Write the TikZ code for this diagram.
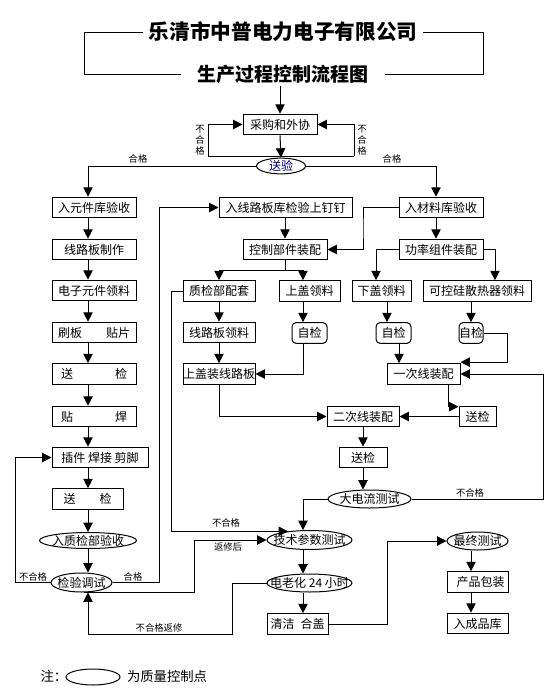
\documentclass[tikz,border=0pt]{standalone}
\usepackage{fontspec}
\setmainfont{Noto Sans CJK SC}
\usetikzlibrary{arrows.meta, shapes.geometric, calc}

\newcommand{\inoval}[1]{\makebox[0pt]{#1}}

\begin{document}
\begin{tikzpicture}
		[x=.75pt,y=-.75pt,line width=.75pt,
		%Styles
		box/.style={draw,rectangle,inner sep=0pt,minimum height=15.5pt,font=\fontsize{9}{10}\selectfont},
		selfcheck/.style={box,rounded corners=3pt},
		qpoint/.style={draw,ellipse,inner sep=0pt,minimum height=13.5pt,font=\fontsize{9}{10}\selectfont},
		arr/.style={-{Triangle[length=7pt,width=7pt]}},
		tag/.style={inner sep=0pt,font=\fontsize{7}{8}\selectfont},
		vtag/.style={tag,align=center,font=\fontsize{7}{8.2}\selectfont}
		]
		
		%Colors
		\colorlet{checkcolor}{blue!50!black}	%text of the first check
		
		\useasboundingbox (0,0) rectangle (560,700);
		
		%Heading
		\node[font=\fontsize{15.5}{17}\selectfont\bfseries,inner xsep=4pt] (head) at (283,32) {乐清市中普电力电子有限公司};
		\node[font=\fontsize{14.25}{16}\selectfont\bfseries,inner xsep=12pt,inner ysep=2pt] (subhead) at (283,74) {生产过程控制流程图};
		\draw (head.west) -- (84,32) |- (subhead.west);
		\draw (head.east) -- (483,32) |- (subhead.east);
		
		%Purchase
		\node[box,minimum width=55.5pt] (buy) at (280,124.5) {采购和外协};
		\node[qpoint,minimum width=36.75pt,minimum height=11.25pt,text=checkcolor] (send) at (281,166) {\inoval{送验}};
		\draw[arr] (buy.north |- subhead.south) -- (buy.north);
		\draw[arr] (buy.south) -- (send.north);
		\coordinate (lback) at (208,156);
		\coordinate (rback) at (354,156);
		\draw (lback) -- (rback);
		\draw[arr] (lback) |- (buy.west);
		\draw[arr] (rback) |- (buy.east);
		\node[vtag] (lno) at (200,140) {不\\合\\格};
		\node[vtag] (rno) at (362,140) {不\\合\\格};
		\node[tag] (lok) at (138,159) {合格};
		\node[tag] (rok) at (392,159) {合格};
		
		%Left column
		\coordinate (lcol) at (88,0);
		\node[box,minimum width=63pt] (parts) at (94,207.5) {入元件库验收};
		\node[box,minimum width=63pt] (pcb) at (94,249.5) {线路板制作};
		\node[box,minimum width=63pt] (issue) at (94,290.5) {电子元件领料};
		\node[box,minimum width=63pt] (print) at (94,332.5) {刷板\hspace{2em}贴片};
		\node[box,minimum width=63pt] (send1) at (94,374) {送\hspace{3.5em}检};
		\node[box,minimum width=63pt] (mount) at (94,416.5) {贴\hspace{3.5em}焊};
		\node[box,minimum width=72pt] (solder) at (100,457.5) {插件 焊接 剪脚};
		\node[box,minimum width=53.25pt] (send2) at (87.5,499) {送\hspace{2em}检};
		\node[qpoint,minimum width=72.75pt,minimum height=12pt] (qacc) at (88,540.5) {\inoval{入质检部验收}};
		\node[qpoint,minimum width=45.75pt,minimum height=14.25pt] (debug) at (81.5,582.5) {\inoval{检验调试}};
		\draw[arr] (send.west) -| (parts.north -| lcol);
		\foreach \a/\b in {parts/pcb,pcb/issue,issue/print,print/send1,send1/mount,mount/solder,solder/send2,send2/qacc,qacc/debug}
			\draw[arr] (\a.south -| lcol) -- (\b.north -| lcol);
		
		%Middle column
		\coordinate (mcol) at (303,0);
		\node[box,minimum width=99.75pt] (board) at (285.5,207.5) {入线路板库检验上钉钉};
		\node[box,minimum width=63pt] (ctrl) at (285,249.5) {控制部件装配};
		\node[box,minimum width=54pt] (qkit) at (219,291) {质检部配套};
		\node[box,minimum width=45.75pt] (lid) at (309.5,291) {上盖领料};
		\node[selfcheck,minimum width=26.25pt] (lidchk) at (309.5,333) {自检};
		\node[box,minimum width=54pt] (pcbget) at (219,332.5) {线路板领料};
		\node[box,minimum width=54pt] (lidpcb) at (219,374) {上盖装线路板};
		\draw[arr] (ctrl.north |- board.south) -- (ctrl.north);
		\draw (ctrl.south) -- ++(0,10.5) coordinate (fork);
		\draw[arr] (fork) -| (qkit.north);
		\draw[arr] (fork) -| ($(lid.north)+(-6.5,0)$);
		\draw[arr] ($(lid.south)+(-6.5,0)$) -- ($(lidchk.north)+(-6.5,0)$);
		\draw[arr] (qkit.south) -- (pcbget.north);
		\draw[arr] (pcbget.south) -- (lidpcb.north);
		\draw[arr] ($(lidchk.south)+(-6.5,0)$) |- (lidpcb.east);
		
		%Right column
		\coordinate (rcol) at (436,0);
		\node[box,minimum width=63pt] (mat) at (441,207.5) {入材料库验收};
		\node[box,minimum width=63pt] (power) at (441,249.5) {功率组件装配};
		\node[box,minimum width=44.25pt] (base) at (381.5,291) {下盖领料};
		\node[box,minimum width=81pt] (sink) at (477,291) {可控硅散热器领料};
		\node[selfcheck,minimum width=26.25pt] (basechk) at (393.5,333) {自检};
		\node[selfcheck,minimum width=18pt] (sinkchk) at (471,333) {自检};
		\node[box,minimum width=54.75pt] (wire1) at (423.5,374) {一次线装配};
		\node[box,minimum width=27.75pt] (send3) at (477.5,416.5) {送检};
		\draw[arr] (send.east) -| (mat.north -| rcol);
		\draw[arr] (mat.south -| rcol) -- (power.north -| rcol);
		\draw[arr] (mat.west) -| ($(ctrl.east)!.5!(mat.west)$) |- (ctrl.east);
		\draw[arr] (power.west) -| ($(base.north)+(-5.5,0)$);
		\draw[arr] (power.east) -| ($(sink.north)+(18,0)$);
		\draw[arr] ($(base.south)+(5.5,0)$) -- ($(basechk.north)+(-6.5,0)$);
		\draw[arr] ($(sink.south)+(-6,0)$) -- (sinkchk.north);
		\draw[arr] ($(basechk.south)+(5.5,0)$) -- ($(wire1.north)+(-24.5,0)$);
		\draw[arr] (sinkchk.east) -| ($(wire1.north east)+(47,-1)$) -- ($(wire1.north east)+(0,-1)$);
		\draw[arr] ($(wire1.south)+(24.5,0)$) |- ($(send3.north west)+(0,1)$);
		
		%Assembly and tests
		\node[box,minimum width=54pt] (wire2) at (363,416.5) {二次线装配};
		\node[box,minimum width=36pt] (send4) at (363,457.5) {送检};
		\node[qpoint,minimum width=62.25pt] (surge) at (369.5,499) {\inoval{大电流测试}};
		\node[qpoint,minimum width=63.75pt,minimum height=14.25pt] (param) at (309.5,540) {\inoval{技术参数测试}};
		\node[qpoint,minimum width=63.75pt] (aging) at (309.5,583) {\inoval{电老化 24 小时}};
		\node[box,minimum width=45.75pt] (close) at (297.5,624) {清洁\hspace{.5em}合盖};
		\draw[arr] (send3.west) -- (wire2.east);
		\draw[arr] (lidpcb.south) |- (wire2.west);
		\draw[arr] (wire2.south) -- (send4.north);
		\draw[arr] (send4.south) -- (send4.south |- surge.north);
		\draw[arr] (surge.west) -| (param.north -| mcol);
		\draw[arr] (surge.east) -| ($(wire1.east)+(83,0)$) -- (wire1.east);
		\node[tag] (nofail3) at (470,493) {不合格};
		\draw[arr] (param.south -| mcol) -- (aging.north -| mcol);
		\draw[arr] (aging.south -| mcol) -- (close.north -| mcol);
		
		%Loops back
		\draw[arr] (debug.west) -| ($(solder.west)+(-36,0)$) -- (solder.west);
		\node[tag] (nofail1) at (33,577) {不合格};
		\draw[arr] (debug.east) -| ($(board.west)+(-59,0)$) -- (board.west);
		\node[tag] (pass1) at (133,577) {合格};
		\draw[arr] (debug.-75) -| ($(param.west)+(-72,0)$) -- (param.west);
		\node[tag] (rep1) at (228,547) {返修后};
		\draw[arr] (qkit.west) -- ++(-11,0) |- (param.158);
		\node[tag] (nofail2) at (226,523) {不合格};
		\coordinate (back) at (232,634);
		\draw[arr] (aging.west) -| (back) -| (debug.south -| lcol);
		\node[tag] (rep2) at (159,628) {不合格返修};
		
		%Final steps
		\coordinate (fcol) at (471,0);
		\node[qpoint,minimum width=45.75pt] (final) at (477.5,541) {\inoval{最终测试}};
		\node[box,minimum width=45.75pt] (pack) at (477.5,582) {\hspace{.5em}产品包装};
		\node[box,minimum width=45.75pt] (store) at (477.5,623.5) {入成品库};
		\draw[arr] (close.east) -| ($(close.east)!.5!(final.west)$) |- (final.west);
		\draw[arr] (final.south -| fcol) -- (pack.north -| fcol);
		\draw[arr] (pack.south -| fcol) -- (store.north -| fcol);
		
		%Legend
		\node[anchor=west,inner sep=0pt,font=\fontsize{10}{11}\selectfont] (note) at (40,676) {注：};
		\node[qpoint,minimum width=40.5pt,minimum height=12pt] (legend) at (93,677) {};
		\node[inner sep=0pt,font=\fontsize{10}{11}\selectfont] (legendtext) at (167,676) {为质量控制点};
	\end{tikzpicture}
\end{document}
